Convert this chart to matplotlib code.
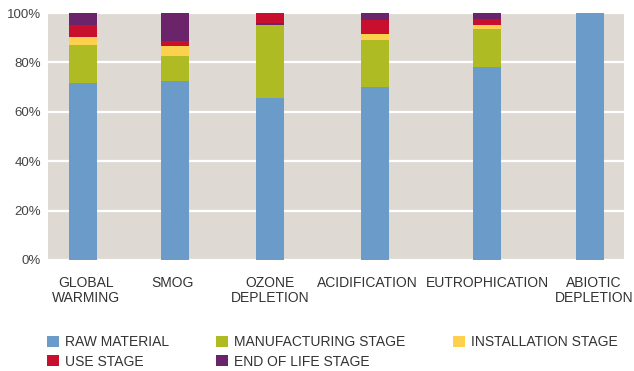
import matplotlib
matplotlib.use("Agg")
import matplotlib.pyplot as plt
from matplotlib.patches import Patch

plt.rcParams['font.family'] = ['Liberation Sans', 'DejaVu Sans']

categories = ["GLOBAL\nWARMING", "SMOG", "OZONE\nDEPLETION", "ACIDIFICATION", "EUTROPHICATION", "ABIOTIC\nDEPLETION"]
series_names = ["RAW MATERIAL", "MANUFACTURING STAGE", "INSTALLATION STAGE", "USE STAGE", "END OF LIFE STAGE"]
raw_material = [71.5, 72.5, 65.7, 70.0, 78.1, 100.0]
manufacturing = [15.5, 10.1, 29.3, 19.1, 15.4, 0.0]
installation = [3.4, 4.0, 0.0, 2.4, 1.6, 0.0]
use_stage = [4.7, 2.1, 4.1, 5.7, 2.5, 0.0]
end_of_life = [4.9, 11.3, 0.9, 2.8, 2.4, 0.0]
y_ticks = [0, 20, 40, 60, 80, 100]
y_tick_labels = ["0%", "20%", "40%", "60%", "80%", "100%"]

# layout / style
colors = ["#6a9bc9", "#aebb22", "#fdd04d", "#c8102e", "#6b2369"]
bg = "#dfd9d4"
x_pos = [35, 127, 222, 327, 439, 542]
label_pos = [38, 125, 222, 319, 439, 546]
bar_width = 28
# stacking order per category (ozone shows end-of-life below use stage)
stack_orders = [[0, 1, 2, 3, 4], [0, 1, 2, 3, 4], [0, 1, 2, 4, 3],
                [0, 1, 2, 3, 4], [0, 1, 2, 3, 4], [0, 1, 2, 3, 4]]

data = [raw_material, manufacturing, installation, use_stage, end_of_life]

fig = plt.figure(figsize=(6.34, 3.71), dpi=100)
ax = fig.add_axes([48/634, 1 - 260/371, 576/634, 247/371])
ax.set_facecolor(bg)
ax.set_xlim(0, 576)
ax.set_ylim(0, 100)

for i in range(len(categories)):
    bottom = 0
    for s in stack_orders[i]:
        v = data[s][i]
        if v > 0:
            ax.bar(x_pos[i], v, width=bar_width, bottom=bottom, color=colors[s], linewidth=0, zorder=3)
        bottom += v

ax.set_yticks(y_ticks)
ax.set_yticklabels(y_tick_labels)
ax.tick_params(axis='y', length=0, pad=5, labelsize=9.5, labelcolor="#444444")
ax.set_xticks([])
ax.yaxis.grid(True, color="white", linewidth=1.6, zorder=1)
ax.set_axisbelow(True)
for sp in ax.spines.values():
    sp.set_visible(False)

for i, c in enumerate(categories):
    ax.text(label_pos[i], -6.5, c, ha='center', va='top', fontsize=10,
            color="#333333", linespacing=1.1, transform=ax.transData, clip_on=False)

# legend filled row-wise: reorder for matplotlib's column-wise fill
legend_order = [0, 3, 1, 4, 2]
handles = [Patch(facecolor=colors[k], edgecolor='none', label=series_names[k]) for k in legend_order]
leg = fig.legend(handles=handles, loc='upper left', bbox_to_anchor=(47/634, 1 - 335/371),
                 ncol=3, frameon=False, fontsize=10, handlelength=0.85, handleheight=0.85,
                 handletextpad=0.45, columnspacing=3.4, labelspacing=0.4, borderaxespad=0,
                 borderpad=0, labelcolor="#333333")

fig.savefig("out.png", dpi=100, facecolor="white")
